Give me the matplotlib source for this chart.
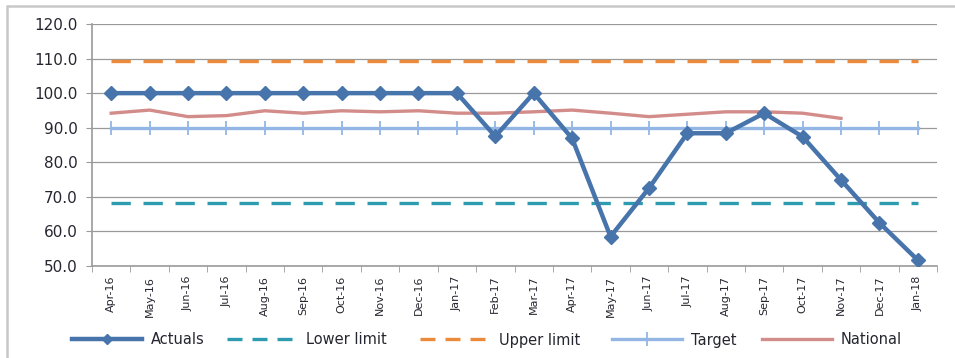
import matplotlib
matplotlib.use("Agg")
import matplotlib.pyplot as plt
from matplotlib.patches import Rectangle
from matplotlib.lines import Line2D
import numpy as np

months = ["Apr-16", "May-16", "Jun-16", "Jul-16", "Aug-16", "Sep-16", "Oct-16",
          "Nov-16", "Dec-16", "Jan-17", "Feb-17", "Mar-17", "Apr-17", "May-17",
          "Jun-17", "Jul-17", "Aug-17", "Sep-17", "Oct-17", "Nov-17", "Dec-17",
          "Jan-18"]
actuals = [100, 100, 100, 100, 100, 100, 100, 100, 100, 100, 87.5, 100, 86.9,
           58.5, 72.5, 88.4, 88.4, 94.2, 87.4, 74.9, 62.5, 51.7]
lower_limit = [68.1] * len(months)
upper_limit = [109.3] * len(months)
target = [90.0] * len(months)
national = [94.2, 95.1, 93.2, 93.5, 94.9, 94.2, 94.9, 94.6, 94.9, 94.2, 94.2,
            94.6, 95.1, 94.2, 93.2, 93.9, 94.6, 94.6, 94.2, 92.7]
y_ticks = [50, 60, 70, 80, 90, 100, 110, 120]

plt.rcParams["font.family"] = ["DejaVu Sans"]
TEXT = "#262630"
GRID = "#9a9a9a"

W, H = 955, 358
fig = plt.figure(figsize=(W / 100, H / 100), dpi=100)
ax = fig.add_axes([92 / W, 1 - 266 / H, (937 - 92) / W, (266 - 24) / H])

# outer chart frame
fig.patches.append(Rectangle((7 / W, -0.02), 1.0, 1 - 6 / H + 0.02,
                             transform=fig.transFigure, fill=False,
                             edgecolor="#c8c8c8", linewidth=1.8))

x = np.arange(len(months))
styles = {
    "Actuals": dict(color="#4674AB", linewidth=3.2, marker="D", markersize=7.5),
    "Lower limit": dict(color="#2E9CB0", linewidth=2.4, dashes=(5.8, 3.8)),
    "Upper limit": dict(color="#EA8A3A", linewidth=2.4, dashes=(5.8, 3.8)),
    "Target": dict(color="#94B6E4", linewidth=2.4, marker="|", markersize=10,
                   markeredgewidth=1.3),
    "National": dict(color="#D28C8A", linewidth=2.4),
}
ax.plot(x, actuals, zorder=5, **styles["Actuals"])
ax.plot(x, lower_limit, zorder=3, **styles["Lower limit"])
ax.plot(x, upper_limit, zorder=3, **styles["Upper limit"])
ax.plot(x, target, zorder=3, **styles["Target"])
ax.plot(np.arange(len(national)), national, zorder=4, **styles["National"])

ax.set_xlim(-0.5, len(months) - 0.5)
ax.set_ylim(50, 120)
ax.set_yticks(y_ticks)
ax.set_yticklabels([f"{v:.1f}" for v in y_ticks], fontsize=11, color=TEXT)
ax.set_xticks(x)
ax.set_xticklabels(months, rotation=90, fontsize=8, color=TEXT)
ax.set_xticks(np.arange(-0.5, len(months)), minor=True)
ax.tick_params(axis="x", which="major", length=0, pad=7)
ax.tick_params(axis="x", which="minor", length=4, color=GRID, direction="out")
ax.tick_params(axis="y", length=4.5, color=GRID, direction="out", pad=6)

ax.grid(axis="y", color=GRID, linewidth=0.9)
ax.set_axisbelow(True)
for side in ("top", "right"):
    ax.spines[side].set_visible(False)
for side in ("left", "bottom"):
    ax.spines[side].set_color(GRID)
    ax.spines[side].set_linewidth(1.2)

# legend entries laid out along the bottom of the chart
legend_x = {"Actuals": 72, "Lower limit": 227, "Upper limit": 420,
            "Target": 612, "National": 762}
for name, px in legend_x.items():
    st = dict(styles[name])
    if name == "Actuals":
        st["markersize"] = 5
    if "dashes" in st:
        st["dashes"] = (4.5, 3.0)
    handle = Line2D([], [], **st)
    fig.legend([handle], [name], loc="center left",
               bbox_to_anchor=(px / W, 1 - 340 / H), frameon=False,
               fontsize=10.5, handlelength=4.8, handletextpad=0.6,
               borderpad=0, borderaxespad=0, labelcolor=TEXT)

fig.savefig("out.png", dpi=100)
